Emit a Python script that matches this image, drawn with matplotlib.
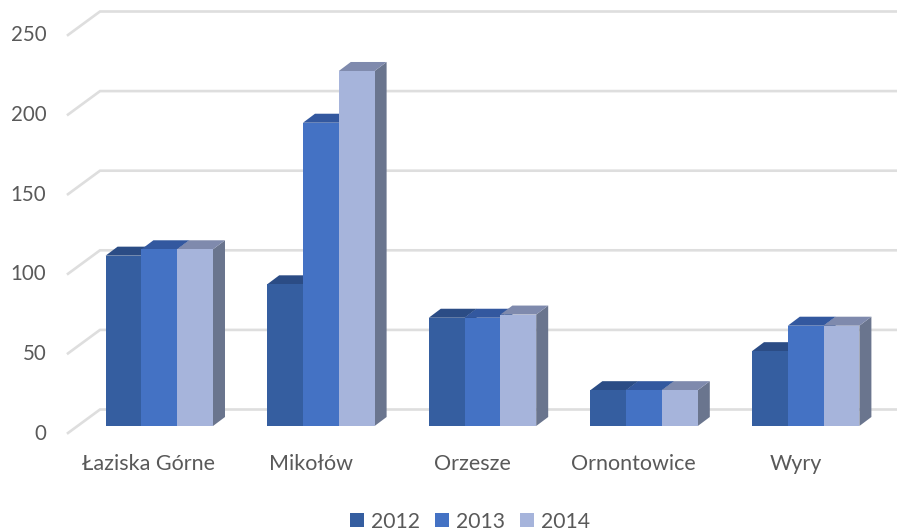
import matplotlib
matplotlib.use("Agg")
import matplotlib.pyplot as plt
from matplotlib.patches import Polygon, Patch

plt.rcParams['font.family'] = ['Lato', 'DejaVu Sans']

categories = ["Łaziska Górne", "Mikołów", "Orzesze", "Ornontowice", "Wyry"]
series_names = ["2012", "2013", "2014"]
values_2012 = [107, 89, 68, 22.5, 47]
values_2013 = [111, 190.5, 68, 22.5, 63]
values_2014 = [111, 223, 70, 22.5, 63]
y_ticks = [0, 50, 100, 150, 200, 250]

series = [values_2012, values_2013, values_2014]
front_colors = ["#355EA0", "#4472C4", "#A6B4DB"]
top_colors = ["#2B4C85", "#33589F", "#7F8AAD"]
side_colors = ["#2F4F82", "#3A5FA0", "#6A758E"]
text_color = "#595959"
grid_color = "#DEDEDE"

W, H = 897, 531
fig = plt.figure(figsize=(W / 100, H / 100), dpi=100)
ax = fig.add_axes([0, 0, 1, 1])
ax.axis("off")

# scale: px_x = 159.3 + 161.6*i ; px_y = 426 - 1.592*v
SX, SY = 161.6, 1.592
ax.set_xlim((0 - 159.3) / SX, (W - 159.3) / SX)
ax.set_ylim((426 - H) / SY, 426 / SY)

bar_w = 35.8 / SX
depth_x, depth_y = 12 / SX, 9 / SY

# back wall gridlines with the slanted floor/wall edge
x_wall0 = (68 - 159.3) / SX
x_wall1 = (100 - 159.3) / SX
x_end = (W - 159.3) / SX
for t in y_ticks:
    back = t + (426 - 409.5) / SY
    front = t + (426 - 433) / SY
    ax.plot([x_wall0, x_wall1, x_end], [front, back, back], color=grid_color,
            lw=1.9, solid_joinstyle="miter", zorder=1)
    ax.text((46.5 - 159.3) / SX, t + (426 - 433.5) / SY, str(t), ha="right", va="center",
            fontsize=14.8, color=text_color)

z = 2
for s, vals in enumerate(series):
    for i, v in enumerate(vals):
        left = i + (s - 1.5) * bar_w
        right = left + bar_w
        ax.add_patch(Polygon([(right, 0), (right + depth_x, depth_y),
                              (right + depth_x, v + depth_y), (right, v)],
                             closed=True, fc=side_colors[s], ec="none", zorder=z))
        ax.add_patch(Polygon([(left, v), (left + depth_x, v + depth_y),
                              (right + depth_x, v + depth_y), (right, v)],
                             closed=True, fc=top_colors[s], ec="none", zorder=z))
        ax.bar(i + (s - 1) * bar_w, v, width=bar_w, color=front_colors[s], zorder=z + 0.5, lw=0)
        z += 1

for i, c in enumerate(categories):
    ax.text(i - 10.3 / SX, (426 - 464.5) / SY, c, ha="center", va="center",
            fontsize=15.5, color=text_color, zorder=50)

handles = [Patch(fc=front_colors[k], ec="none", label=series_names[k]) for k in range(3)]
ax.legend(handles=handles, ncol=3, loc="center", bbox_to_anchor=(470 / W, 1 - 521.5 / H),
          bbox_transform=fig.transFigure, frameon=False, fontsize=15.2,
          labelcolor=text_color, handlelength=0.66, handleheight=0.66,
          handletextpad=0.3, columnspacing=0.75, borderpad=0, borderaxespad=0)

fig.savefig("out.png", dpi=100, facecolor="white")
